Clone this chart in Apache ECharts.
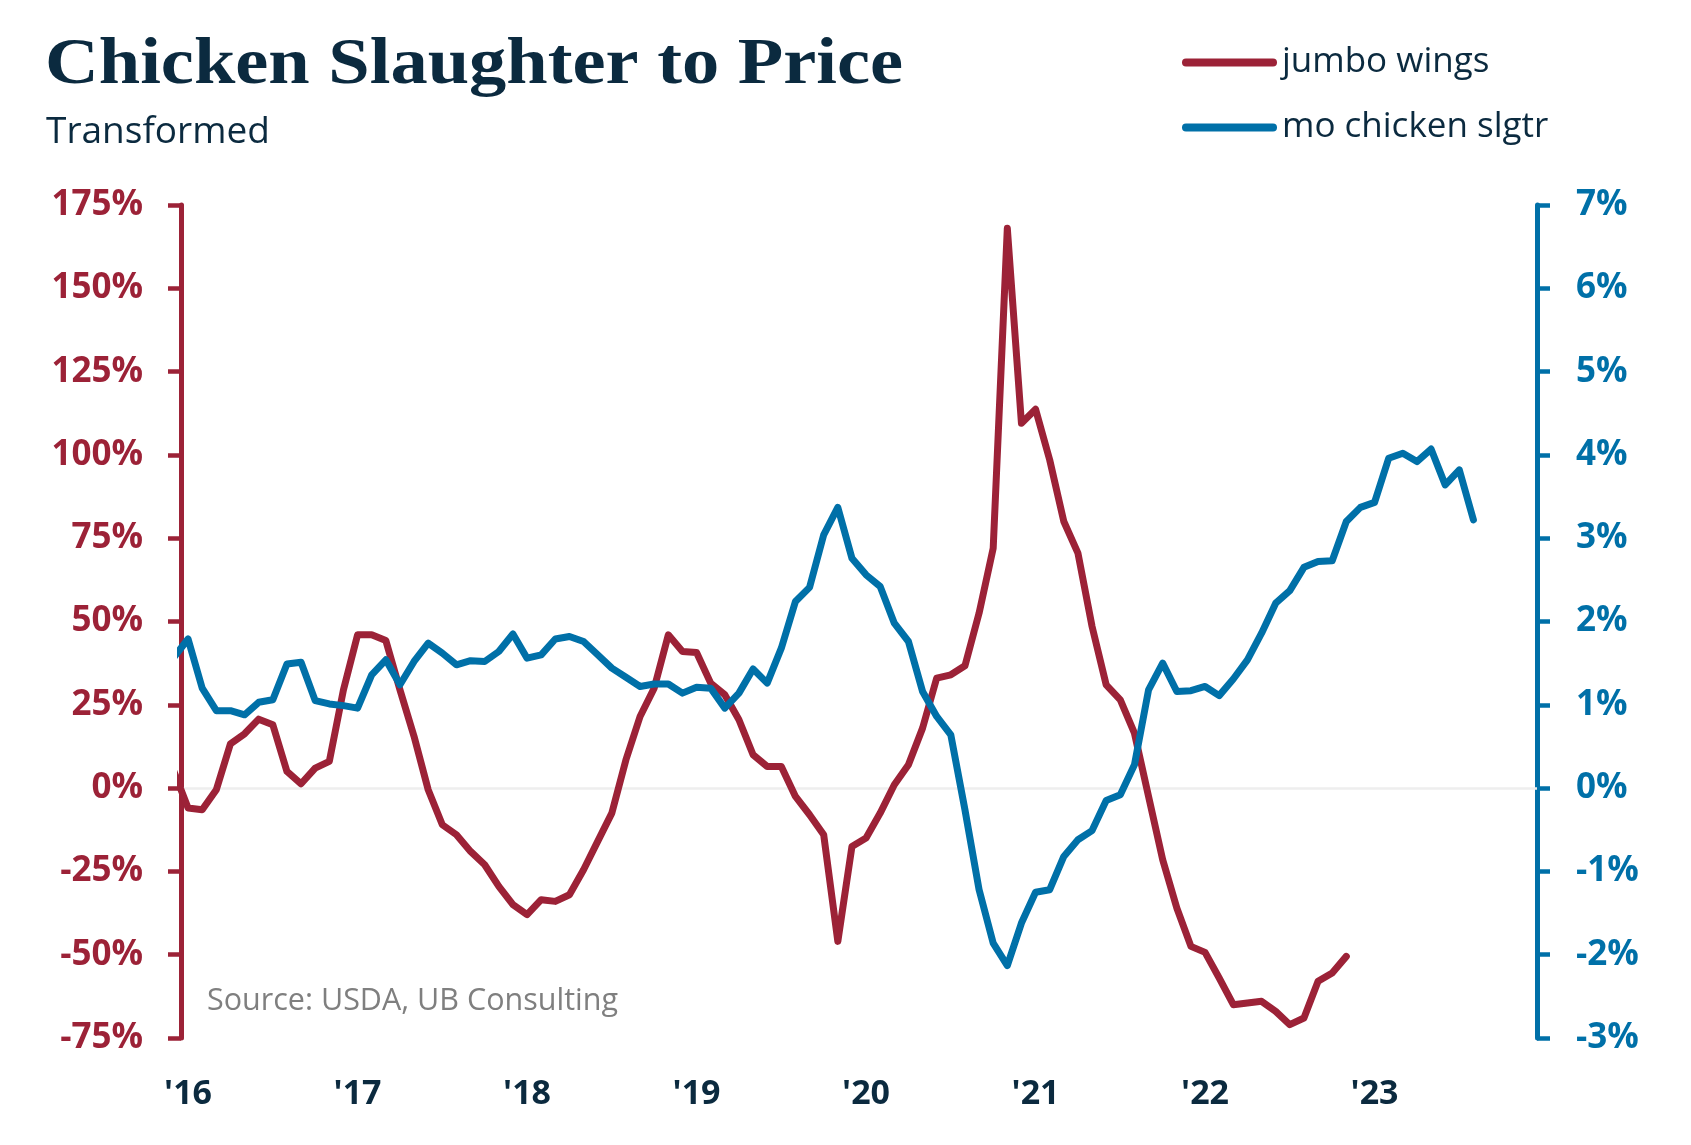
<!DOCTYPE html>
<html><head><meta charset="utf-8">
<script src="https://cdn.jsdelivr.net/npm/echarts@6.0.0/dist/echarts.min.js"></script>
<style>html,body{margin:0;padding:0;background:#fff}#c{width:1691px;height:1145px}</style>
</head><body><div id="c"></div>
<script>
// x tick labels (January of each year)
const yearLabels = ["'16","'17","'18","'19","'20","'21","'22","'23"];
// monthly values, first entry = Dec 2015 (clipped at the left edge), then Jan 2016 onward
const jumboWings = [
  5,
  -6, -6.5, -0.5, 13.3, 16.3, 20.7, 19, 5, 1.3, 6, 8, 29.5,
  46, 46, 44.3, 29.5, 15.5, -0.5, -11, -14, -19, -23, -29.5, -35,
  -38, -33.5, -34, -32, -24.5, -16, -7.5, 8.5, 21.5, 30, 46, 41,
  40.7, 31.5, 28, 20.5, 10, 6.5, 6.5, -2.5, -8, -14, -46, -17.5,
  -15, -7.5, 1, 7, 18, 33, 34, 36.7, 52.5, 72, 168, 109.5,
  113.7, 98.5, 80, 70.5, 48.5, 31, 26.5, 16.5, -2.5, -21.5, -36, -47.5,
  -49.3, -57, -65, -64.5, -64, -67, -71, -69, -58, -55.5, -50.5
];
const moChickenSlgtr = [
  1.57,
  1.79, 1.20, 0.93, 0.93, 0.88, 1.03, 1.06, 1.49, 1.51, 1.05, 1.01, 0.99,
  0.96, 1.36, 1.54, 1.24, 1.52, 1.74, 1.62, 1.48, 1.53, 1.52, 1.64, 1.85,
  1.56, 1.60, 1.79, 1.82, 1.76, 1.60, 1.44, 1.33, 1.22, 1.25, 1.25, 1.14,
  1.21, 1.20, 0.96, 1.14, 1.43, 1.26, 1.68, 2.24, 2.41, 3.04, 3.37, 2.76,
  2.56, 2.42, 1.98, 1.76, 1.16, 0.86, 0.64, -0.26, -1.22, -1.86, -2.13, -1.62,
  -1.25, -1.22, -0.82, -0.62, -0.51, -0.15, -0.08, 0.28, 1.18, 1.50, 1.16, 1.17,
  1.22, 1.11, 1.31, 1.54, 1.86, 2.22, 2.37, 2.65, 2.72, 2.73, 3.20, 3.37,
  3.43, 3.96, 4.02, 3.92, 4.07, 3.64, 3.82, 3.22
];
const seriesNames = ['jumbo wings', 'mo chicken slgtr'];

const RED = '#9C2237', BLUE = '#0070A8', NAVY = '#0B2A3F';
const SANS = '"Open Sans", "Noto Sans", sans-serif';
const CAPSULE = 'path://M4,0 L91,0 A4,4 0 0 1 91,8 L4,8 A4,4 0 0 1 4,0 Z';

const toPairs = arr => arr.map((v, i) => [i - 1, v]);

const chart = echarts.init(document.getElementById('c'), null, {renderer: 'canvas'});
chart.setOption({
  backgroundColor: '#ffffff',
  animation: false,
  graphic: [
    {type: 'text', x: 45, y: 33, scaleX: 1.128, scaleY: 1, silent: true,
     style: {text: 'Chicken Slaughter to Price', fill: NAVY,
       font: 'bold 66px "Liberation Serif", serif', verticalAlign: 'top', align: 'left'}}
  ],
  title: [
    {text: 'Transformed', left: 41, top: 109,
     textStyle: {fontFamily: SANS, fontWeight: 'normal', fontSize: 37, color: NAVY}},
    {text: 'Source: USDA, UB Consulting', left: 202, top: 981,
     textStyle: {fontFamily: SANS, fontWeight: 'normal', fontSize: 30.5, color: '#7F7F7F'}}
  ],
  legend: {
    orient: 'vertical', left: 1177, top: 40,
    icon: CAPSULE,
    itemWidth: 95, itemHeight: 8, itemGap: 30,
    textStyle: {fontFamily: SANS, fontSize: 35, color: NAVY, lineHeight: 34},
    data: seriesNames
  },
  grid: {left: 181, right: 154, top: 205, bottom: 107, containLabel: false},
  xAxis: {
    type: 'value', min: -0.5, max: 95.5,
    axisLine: {show: false}, axisTick: {show: false}, splitLine: {show: false},
    axisLabel: {
      customValues: yearLabels.map((_, i) => i * 12),
      formatter: v => yearLabels[Math.round(v / 12)] || '',
      margin: 39, fontFamily: SANS, fontWeight: 'bold', fontSize: 34, color: NAVY
    }
  },
  yAxis: [
    {type: 'value', position: 'left', min: -75, max: 175, interval: 25,
     axisLine: {show: true, onZero: false, lineStyle: {color: RED, width: 5}},
     axisTick: {show: true, length: 13, lineStyle: {color: RED, width: 4.5}},
     splitLine: {show: false},
     axisLabel: {formatter: '{value}%', margin: 38, fontFamily: SANS, fontWeight: 'bold', fontSize: 35, color: RED}},
    {type: 'value', position: 'right', min: -3, max: 7, interval: 1,
     axisLine: {show: true, onZero: false, lineStyle: {color: BLUE, width: 5}},
     axisTick: {show: true, length: 13, lineStyle: {color: BLUE, width: 4.5}},
     splitLine: {show: false},
     axisLabel: {formatter: '{value}%', margin: 39, fontFamily: SANS, fontWeight: 'bold', fontSize: 35, color: BLUE}}
  ],
  series: [
    {name: seriesNames[0], type: 'line', yAxisIndex: 0, data: toPairs(jumboWings),
     symbol: 'none', lineStyle: {color: RED, width: 7, cap: 'round', join: 'round'}, itemStyle: {color: RED},
     markLine: {silent: true, symbol: 'none', z: 1, label: {show: false},
       lineStyle: {color: '#EEEEEE', width: 2.5, type: 'solid'}, data: [{yAxis: 0}]}},
    {name: seriesNames[1], type: 'line', yAxisIndex: 1, data: toPairs(moChickenSlgtr),
     symbol: 'none', lineStyle: {color: BLUE, width: 7, cap: 'round', join: 'round'}, itemStyle: {color: BLUE}}
  ]
});
</script></body></html>
